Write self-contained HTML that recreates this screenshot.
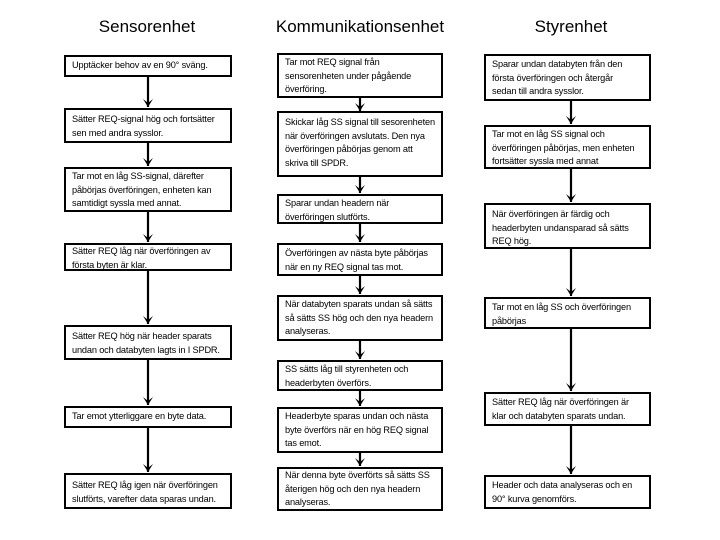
<!DOCTYPE html>
<html><head><meta charset="utf-8"><style>
body{margin:0;background:#fff;}
#c{position:relative;width:720px;height:540px;overflow:hidden;font-family:"Liberation Sans",sans-serif;}
.t{position:absolute;top:17px;font-size:17px;text-align:center;width:240px;color:#000;}
.b{position:absolute;box-sizing:border-box;border:2px solid #000;background:#fff;font-size:9.2px;line-height:13.5px;padding:2px 3px 0 6px;color:#000;letter-spacing:-0.15px;white-space:nowrap;}
svg{position:absolute;left:0;top:0;}
</style></head><body><div id="c">
<svg width="720" height="540" id="s">
<g stroke="#000" stroke-width="2.2" fill="none">
<path d="M148 76V107M148 143V166M148 211V242M148 270V324M148 359V405M148 427V472"/>
<path d="M360 97V111M360 176V193M360 223V242M360 275V294M360 340V359M360 390V406M360 452V466"/>
<path d="M571 100V124M571 168V202M571 248V296M571 328V391M571 425V474"/>
</g>
<g fill="#000">
<path d="M143 99L148 107L153 99L148 103Z"/>
<path d="M143 158L148 166L153 158L148 162Z"/>
<path d="M143 234L148 242L153 234L148 238Z"/>
<path d="M143 316L148 324L153 316L148 320Z"/>
<path d="M143 397L148 405L153 397L148 401Z"/>
<path d="M143 464L148 472L153 464L148 468Z"/>
<path d="M355 103L360 111L365 103L360 107Z"/>
<path d="M355 185L360 193L365 185L360 189Z"/>
<path d="M355 234L360 242L365 234L360 238Z"/>
<path d="M355 286L360 294L365 286L360 290Z"/>
<path d="M355 351L360 359L365 351L360 355Z"/>
<path d="M355 398L360 406L365 398L360 402Z"/>
<path d="M355 458L360 466L365 458L360 462Z"/>
<path d="M566 116L571 124L576 116L571 120Z"/>
<path d="M566 194L571 202L576 194L571 198Z"/>
<path d="M566 288L571 296L576 288L571 292Z"/>
<path d="M566 383L571 391L576 383L571 387Z"/>
<path d="M566 466L571 474L576 466L571 470Z"/>
</g>
</svg>
<div class="t" style="left:27px">Sensorenhet</div>
<div class="t" style="left:240px">Kommunikationsenhet</div>
<div class="t" style="left:451px">Styrenhet</div>

<div class="b" style="left:64px;top:55px;width:168px;height:22px;">Upptäcker behov av en 90° sväng.</div>
<div class="b" style="left:64px;top:108px;width:168px;height:35px;padding-top:3px;">Sätter REQ-signal hög och fortsätter<br>sen med andra sysslor.</div>
<div class="b" style="left:64px;top:167px;width:168px;height:45px;padding-top:1px;">Tar mot en låg SS-signal, därefter<br>påbörjas överföringen, enheten kan<br>samtidigt syssla med annat.</div>
<div class="b" style="left:64px;top:243px;width:168px;height:28px;padding-top:0;">Sätter REQ låg när överföringen av<br>första byten är klar.</div>
<div class="b" style="left:64px;top:325px;width:168px;height:35px;padding-top:3px;">Sätter REQ hög när header sparats<br>undan och databyten lagts in I SPDR.</div>
<div class="b" style="left:64px;top:406px;width:168px;height:22px;">Tar emot ytterliggare en byte data.</div>
<div class="b" style="left:64px;top:473px;width:168px;height:36px;padding-top:4px;">Sätter REQ låg igen när överföringen<br>slutförts, varefter data sparas undan.</div>

<div class="b" style="left:277px;top:53px;width:166px;height:45px;padding-top:1px;">Tar mot REQ signal från<br>sensorenheten under pågående<br>överföring.</div>
<div class="b" style="left:277px;top:111px;width:166px;height:66px;padding-top:3px;">Skickar låg SS signal till sesorenheten<br>när överföringen avslutats. Den nya<br>överföringen påbörjas genom att<br>skriva till SPDR.</div>
<div class="b" style="left:277px;top:194px;width:166px;height:30px;padding-top:1px;">Sparar undan headern när<br>överföringen slutförts.</div>
<div class="b" style="left:277px;top:243px;width:166px;height:33px;padding-top:2px;">Överföringen av nästa byte påbörjas<br>när en ny REQ signal tas mot.</div>
<div class="b" style="left:277px;top:295px;width:166px;height:46px;padding-top:1px;">När databyten sparats undan så sätts<br>så sätts SS hög och den nya headern<br>analyseras.</div>
<div class="b" style="left:277px;top:360px;width:166px;height:31px;padding-top:1px;">SS sätts låg till styrenheten och<br>headerbyten överförs.</div>
<div class="b" style="left:277px;top:407px;width:166px;height:46px;padding-top:1px;">Headerbyte sparas undan och nästa<br>byte överförs när en hög REQ signal<br>tas emot.</div>
<div class="b" style="left:277px;top:467px;width:166px;height:44px;padding-top:0;">När denna byte överförts så sätts SS<br>återigen hög och den nya headern<br>analyseras.</div>

<div class="b" style="left:484px;top:54px;width:167px;height:47px;padding-top:2px;">Sparar undan databyten från den<br>första överföringen och återgår<br>sedan till andra sysslor.</div>
<div class="b" style="left:484px;top:125px;width:167px;height:44px;padding-top:1px;">Tar mot en låg SS signal och<br>överföringen påbörjas, men enheten<br>fortsätter syssla med annat</div>
<div class="b" style="left:484px;top:203px;width:167px;height:46px;padding-top:3px;">När överföringen är färdig och<br>headerbyten undansparad så sätts<br>REQ hög.</div>
<div class="b" style="left:484px;top:297px;width:167px;height:32px;padding-top:2px;">Tar mot en låg SS och överföringen<br>påbörjas</div>
<div class="b" style="left:484px;top:392px;width:167px;height:34px;padding-top:2px;">Sätter REQ låg när överföringen är<br>klar och databyten sparats undan.</div>
<div class="b" style="left:484px;top:475px;width:167px;height:34px;padding-top:2px;">Header och data analyseras och en<br>90° kurva genomförs.</div>
</div></body></html>
